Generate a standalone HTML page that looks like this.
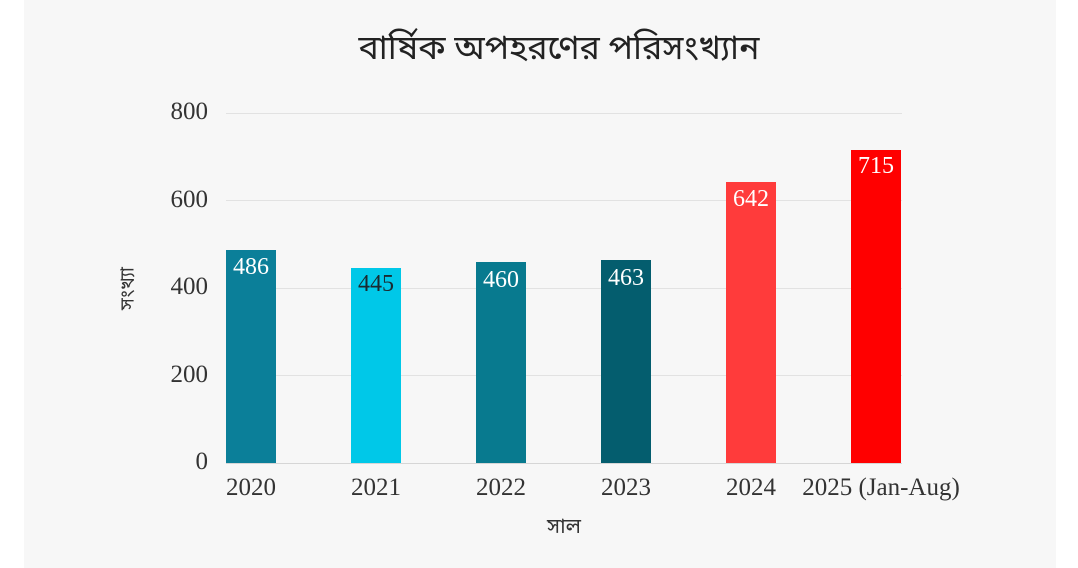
<!DOCTYPE html>
<html><head><meta charset="utf-8"><style>
body{margin:0;width:1078px;height:568px;background:#fff;overflow:hidden;font-family:"Liberation Serif","DejaVu Serif",serif;}
.card{position:absolute;left:24px;top:0;width:1032px;height:568px;background:#f7f7f7;}
.t{position:absolute;color:#333;}
.g{position:absolute;left:226px;width:676px;height:1px;background:#e2e2e2;}
.b{position:absolute;width:50px;}
.v{position:absolute;width:50px;text-align:center;font-size:24px;color:#fff;}
.yl{position:absolute;left:140px;width:68px;text-align:right;font-size:25px;color:#333;}
.xl{position:absolute;top:474px;font-size:25px;color:#333;text-align:center;width:140px;}
</style></head><body>
<div class="card"></div>
<div class="t" style="left:20px;width:1078px;text-align:center;top:28px;font-size:34px;font-family:'Noto Sans Bengali','Liberation Sans',sans-serif;color:#222;">বার্ষিক অপহরণের পরিসংখ্যান</div>
<div class="g" style="top:113px"></div>
<div class="g" style="top:200px"></div>
<div class="g" style="top:288px"></div>
<div class="g" style="top:375px"></div>
<div class="g" style="top:463px;background:#d6d6d6"></div>
<div class="yl" style="top:98px">800</div>
<div class="yl" style="top:186px">600</div>
<div class="yl" style="top:273px">400</div>
<div class="yl" style="top:361px">200</div>
<div class="yl" style="top:448px">0</div>
<div class="t" style="left:94px;top:276px;font-size:19px;transform:rotate(-90deg);transform-origin:center;width:70px;text-align:center;font-family:'Noto Sans Bengali','Liberation Sans',sans-serif;">সংখ্যা</div>
<div class="b" style="left:226px;top:250px;height:213px;background:#0b7f99"></div>
<div class="b" style="left:351px;top:268px;height:195px;background:#00c8e8"></div>
<div class="b" style="left:476px;top:262px;height:201px;background:#087a8f"></div>
<div class="b" style="left:601px;top:260px;height:203px;background:#045d6e"></div>
<div class="b" style="left:726px;top:182px;height:281px;background:#ff3b3b"></div>
<div class="b" style="left:851px;top:150px;height:313px;background:#ff0000"></div>
<div class="v" style="left:226px;top:254px">486</div>
<div class="v" style="left:351px;top:271px;color:#1a2a30">445</div>
<div class="v" style="left:476px;top:267px">460</div>
<div class="v" style="left:601px;top:265px">463</div>
<div class="v" style="left:726px;top:186px">642</div>
<div class="v" style="left:851px;top:153px">715</div>
<div class="xl" style="left:181px">2020</div>
<div class="xl" style="left:306px">2021</div>
<div class="xl" style="left:431px">2022</div>
<div class="xl" style="left:556px">2023</div>
<div class="xl" style="left:681px">2024</div>
<div class="xl" style="left:786px;width:190px">2025 (Jan-Aug)</div>
<div class="t" style="left:0;width:1128px;text-align:center;top:514px;font-size:21px;font-family:'Noto Sans Bengali','Liberation Sans',sans-serif;">সাল</div>
</body></html>
